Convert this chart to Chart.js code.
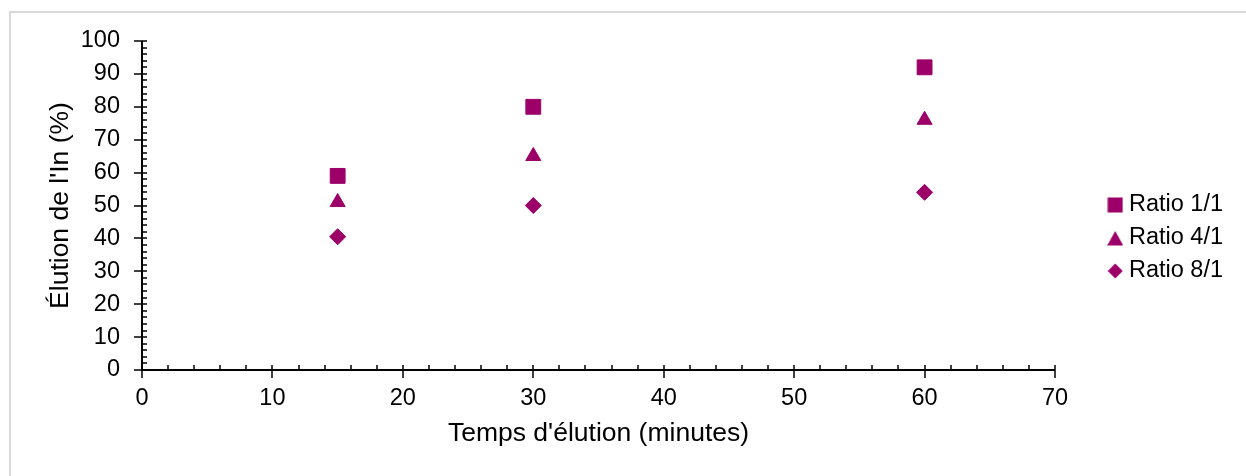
<!DOCTYPE html>
<html>
<head>
<meta charset="utf-8">
<script src="https://cdn.jsdelivr.net/npm/chart.js@4"></script>
<style>
  body { margin: 0; background: #fff; }
  #frame { position: absolute; left: 9px; top: 11px; width: 1300px; height: 500px; border-left: 2px solid #d9d9d9; border-top: 2px solid #d9d9d9; }
  #wrap { position: absolute; left: 0; top: 0; width: 1246px; height: 476px; }
</style>
</head>
<body>
<div id="frame"></div>
<div id="wrap"><canvas id="myChart"></canvas></div>
<script>
// data
let times = [15, 30, 60];
let ratio11 = [59, 80, 92];
let ratio41 = [51, 65, 76];
let ratio81 = [40.5, 50, 54];
let seriesNames = ['Ratio 1/1', 'Ratio 4/1', 'Ratio 8/1'];
let xTicks = [0, 10, 20, 30, 40, 50, 60, 70];
let yTicks = [0, 10, 20, 30, 40, 50, 60, 70, 80, 90, 100];

let purple = '#9C0068';
let font = 'Liberation Sans, Arial, sans-serif';

function pts(ys) {
  return times.map((t, i) => ({ x: t, y: ys[i] }));
}

// little canvases for the legend symbols (Excel keeps them small)
function legendIcon(shape) {
  let cv = document.createElement('canvas');
  cv.width = 16; cv.height = 16;
  let c = cv.getContext('2d');
  c.fillStyle = purple;
  c.beginPath();
  if (shape === 'rect') {
    c.rect(0.5, 0.5, 15, 15);
  } else if (shape === 'triangle') {
    c.moveTo(8, 1); c.lineTo(16, 15.5); c.lineTo(0, 15.5);
  } else {
    c.moveTo(8, 0.5); c.lineTo(15.5, 8); c.lineTo(8, 15.5); c.lineTo(0.5, 8);
  }
  c.closePath();
  c.fill();
  return cv;
}
let icons = [legendIcon('rect'), legendIcon('triangle'), legendIcon('rectRot')];

// axis lines, major ticks crossing the axis, minor ticks inside
let axisTicks = {
  id: 'axisTicks',
  afterDraw(chart) {
    let c = chart.ctx;
    let xs = chart.scales.x, ys = chart.scales.y;
    c.save();
    c.strokeStyle = '#000';
    c.lineWidth = 1.5;
    c.beginPath();
    for (let v = 0; v <= 70; v += 2) {
      let px = Math.round(xs.getPixelForValue(v));
      let major = v % 10 === 0;
      c.moveTo(px, ys.bottom - 5);
      c.lineTo(px, ys.bottom + (major ? 8 : 0));
    }
    for (let v = 0; v <= 100; v += 2) {
      let py = Math.round(ys.getPixelForValue(v));
      let major = v % 10 === 0;
      c.moveTo(xs.left - (major ? 8 : 0), py);
      c.lineTo(xs.left + 5, py);
    }
    c.stroke();
    c.lineWidth = 2;
    c.beginPath();
    c.moveTo(xs.left, ys.top);
    c.lineTo(xs.left, ys.bottom);
    c.lineTo(xs.right, ys.bottom);
    c.stroke();
    c.restore();
  }
};

// push the legend to the right edge, leaving a gap after the plot
let legendRight = {
  id: 'legendRight',
  afterLayout(chart) {
    let lg = chart.legend;
    let d = chart.width - 13 - lg.right;
    lg.left += d;
    lg.right += d;
  }
};

let myChart = document.getElementById('myChart').getContext('2d');

let chart = new Chart(myChart, {
  type: 'scatter',
  data: {
    datasets: [{
      label: seriesNames[0],
      data: pts(ratio11),
      pointStyle: 'rect',
      pointRadius: 10.5,
      backgroundColor: purple,
      borderColor: purple
    }, {
      label: seriesNames[1],
      data: pts(ratio41),
      pointStyle: 'triangle',
      pointRadius: 8.7,
      backgroundColor: purple,
      borderColor: purple
    }, {
      label: seriesNames[2],
      data: pts(ratio81),
      pointStyle: 'rectRot',
      pointRadius: 8,
      backgroundColor: purple,
      borderColor: purple
    }]
  },
  options: {
    responsive: true,
    maintainAspectRatio: false,
    animation: false,
    layout: { padding: { left: 41, top: 22, right: 14, bottom: 22 } },
    plugins: {
      tooltip: { enabled: false },
      legend: {
        position: 'right',
        labels: {
          usePointStyle: true,
          pointStyleWidth: 4,
          boxHeight: 15,
          padding: 9.5,
          color: '#000',
          font: { family: font, size: 23.5 },
          generateLabels: (ch) => {
            let items = Chart.defaults.plugins.legend.labels.generateLabels(ch);
            items.forEach((it, i) => { it.pointStyle = icons[i]; });
            return items;
          }
        }
      }
    },
    scales: {
      x: {
        type: 'linear',
        min: 0,
        max: 70,
        afterBuildTicks: (s) => { s.ticks = xTicks.map(v => ({ value: v })); },
        // chart.js counts the tick padding twice; give one back
        afterFit: (s) => { s.paddingRight = 191; s.height -= 14; },
        border: { display: false },
        grid: { display: false, drawTicks: false, tickLength: 0 },
        ticks: { color: '#000', padding: 14, font: { family: font, size: 23.5 } },
        title: { display: true, text: "Temps d'élution (minutes)", color: '#000', padding: { top: 6, bottom: 4 }, font: { family: font, size: 26.5 } }
      },
      y: {
        type: 'linear',
        min: 0,
        max: 100,
        afterBuildTicks: (s) => { s.ticks = yTicks.map(v => ({ value: v })); },
        afterFit: (s) => { s.paddingTop = 41; s.width -= 22; },
        border: { display: false },
        grid: { display: false, drawTicks: false, tickLength: 0 },
        ticks: { color: '#000', padding: 22, font: { family: font, size: 23.5 } },
        title: { display: true, text: "Élution de l'In (%)", color: '#000', padding: { top: 4, bottom: 4 }, font: { family: font, size: 26.5 } }
      }
    }
  },
  plugins: [axisTicks, legendRight]
});
</script>
</body>
</html>
